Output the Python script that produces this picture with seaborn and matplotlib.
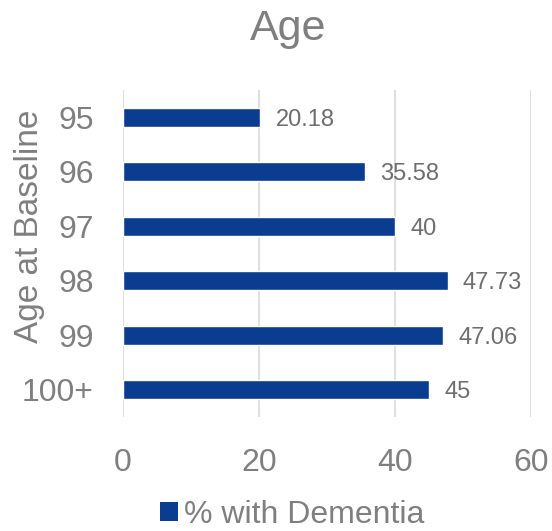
import matplotlib
matplotlib.use("Agg")
import matplotlib.pyplot as plt
from matplotlib.patches import Patch
import seaborn as sns
import pandas as pd

ages = ["95", "96", "97", "98", "99", "100+"]
pct_dementia = [20.18, 35.58, 40, 47.73, 47.06, 45]
value_labels = ["20.18", "35.58", "40", "47.73", "47.06", "45"]
x_ticks = [0, 20, 40, 60]

BAR = "#0A3D8F"
GREY = "#7F7F7F"
LABEL_GREY = "#6E6E6E"

sns.set_theme(style="white")
plt.rcParams["font.family"] = ["Liberation Sans", "DejaVu Sans"]

df = pd.DataFrame({"age": ages, "pct": pct_dementia})

fig = plt.figure(figsize=(5.52, 5.31), dpi=100)
ax = fig.add_axes([0.2228, 0.2147, 0.7392, 0.6158])

sns.barplot(data=df, y="age", x="pct", order=ages, orient="h",
            color=BAR, saturation=1, width=0.355, ax=ax)

ax.set_xlim(0, 60)
ax.set_xticks(x_ticks)
ax.xaxis.grid(True, color="#D9D9D9", linewidth=1.2)
ax.set_axisbelow(True)
for s in ax.spines.values():
    s.set_visible(False)

ax.tick_params(axis="x", length=0, pad=22, labelsize=23, labelcolor=GREY)
ax.tick_params(axis="y", length=0, pad=21, labelsize=23, labelcolor=GREY)
ax.set_xlabel("")
ax.set_ylabel("Age at Baseline", fontsize=24, color=GREY)
ax.yaxis.set_label_coords(-0.191, 0.584)

texts = ax.bar_label(ax.containers[0], labels=value_labels, padding=11,
                     fontsize=17, color=LABEL_GREY)
for t in texts:
    t.set_va("center_baseline")

fig.text(0.522, 0.945, "Age", ha="center", va="center", fontsize=31, color=GREY)

handle = Patch(facecolor=BAR, edgecolor="none")
fig.legend([handle], ["% with Dementia"], loc="center", bbox_to_anchor=(0.53, 0.03),
           frameon=False, fontsize=23, labelcolor=GREY, handlelength=0.55,
           handleheight=0.55, handletextpad=0.2)

fig.savefig("out.png", dpi=100)
